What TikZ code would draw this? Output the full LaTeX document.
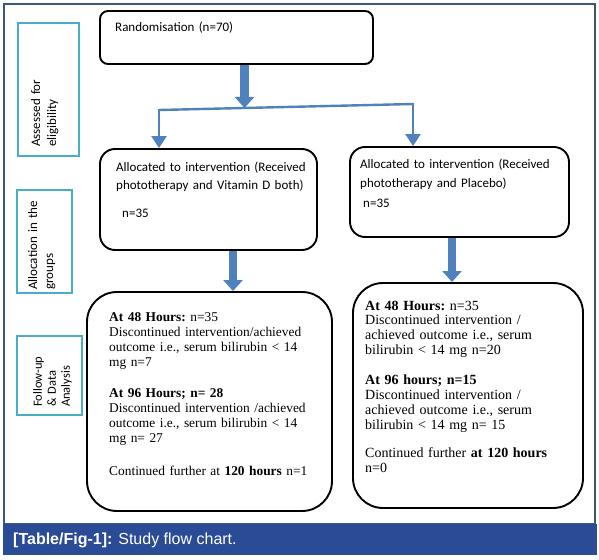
\documentclass[tikz,border=0pt]{standalone}
\usepackage{fontspec}
\setmainfont{Liberation Serif}
\newfontfamily\calibrifont{Carlito}
\newfontfamily\arialfont{Liberation Sans}
\usetikzlibrary{arrows.meta}
\definecolor{framegray}{HTML}{3D5872}
\definecolor{capblue}{HTML}{2A4B96}
\definecolor{labelcyan}{HTML}{4BACC6}
\definecolor{arrowblue}{HTML}{4F81BD}
\tikzset{
  stagebox/.style={draw=labelcyan, line width=2pt, inner sep=0pt},
  flowbox/.style={draw, line width=1.9pt, rounded corners=#1, inner sep=0pt},
  sanstext/.style={anchor=base west, inner sep=0pt, text width=#1, align=left,
    font=\calibrifont\fontsize{13}{18.5}\selectfont},
  seriftext/.style={anchor=base west, inner sep=0pt, text width=#1, align=left,
    font=\fontsize{14}{14.9}\selectfont\frenchspacing},
  stagetext/.style={rotate=90, anchor=north west, inner sep=0pt, text width=#1, align=left,
    font=\calibrifont\fontsize{13}{16}\selectfont},
  blockarrow/.style={arrowblue, line width=#1, -{Triangle[width=19pt,length=11pt]}},
  thinarrow/.style={arrowblue, line width=2.4pt, -{Triangle[width=15pt,length=12pt]}},
}
\begin{document}
\begin{tikzpicture}[x=1pt, y=-1pt]
\useasboundingbox (0,0) rectangle (599,559);

% frame and caption
\draw[framegray, line width=1.2pt] (4,4) rectangle (595,524);
\fill[capblue] (3,524) rectangle (597,555);
\node[anchor=base west, inner sep=0pt, text=white, font=\arialfont\fontsize{16}{18}\selectfont]
  (caption) at (13,544) {\textbf{[Table/Fig-1]:} Study flow chart.};

% stage labels
\node[stagebox, minimum width=61, minimum height=133] (assess) at (48.5,89.5) {};
\node[stagebox, minimum width=55, minimum height=103] (alloc) at (44.5,241.5) {};
\node[stagebox, minimum width=65, minimum height=79] (follow) at (49.5,375.5) {};
\node[stagetext=130] (assesstxt) at (31,147) {Assessed for\\eligibility};
\node[stagetext=100] (alloctxt) at (28,290) {Allocation in the\\groups};
\node[stagetext=80, font=\calibrifont\fontsize{12.5}{14}\selectfont] (followtxt) at (33,407) {Follow-up\\\& Data\\Analysis};

% flow boxes
\node[flowbox=8pt, minimum width=273, minimum height=53] (rand) at (236.5,37.5) {};
\node[flowbox=15pt, minimum width=217, minimum height=101] (alloc1) at (208.5,199.5) {};
\node[flowbox=15pt, minimum width=219, minimum height=90] (alloc2) at (459.5,192) {};
\node[flowbox=30pt, minimum width=245, minimum height=219] (fu1) at (209.5,401.5) {};
\node[flowbox=30pt, minimum width=230, minimum height=225] (fu2) at (468,395.5) {};

% box texts
\node[sanstext=250] (randtxt) at (115,32) {Randomisation (n=70)};
\node[sanstext=215] (alloc1txt) at (116,171) {Allocated to intervention (Received\\
  phototherapy and Vitamin D both)\\[9.5pt]
  \hspace*{6pt}n=35};
\node[sanstext=215] (alloc2txt) at (360,168.5) {Allocated to intervention (Received\\
  phototherapy and Placebo)\\[1.5pt]
  \hspace*{3pt}n=35};
\node[seriftext=240, font=\fontsize{13.4}{14.9}\selectfont\frenchspacing] (fu1txt) at (109,321.7) {\textbf{At 48 Hours:} n=35\\
  Discontinued intervention/achieved\\
  outcome i.e., serum bilirubin < 14\\
  mg n=7\\[16.5pt]
  \textbf{At 96 Hours; n= 28}\\
  Discontinued intervention /achieved\\
  outcome i.e., serum bilirubin < 14\\
  mg n= 27\\[18.5pt]
  Continued further at \textbf{120 hours} n=1};
\node[seriftext=225] (fu2txt) at (365,310) {\textbf{At 48 Hours:} n=35\\
  Discontinued intervention /\\
  achieved outcome i.e., serum\\
  bilirubin < 14 mg n=20\\[15pt]
  \textbf{At 96 hours; n=15}\\
  Discontinued intervention /\\
  achieved outcome i.e., serum\\
  bilirubin < 14 mg n= 15\\[13pt]
  Continued further \textbf{at 120 hours}\\
  n=0};

% arrows
\coordinate (split) at (244.5,108);
\coordinate (lb) at (159,110);
\coordinate (rb) at (413,104);
\draw[blockarrow=9pt] ([xshift=8pt]rand.south) -- (split);
\draw[arrowblue, line width=2.4pt] (lb) -- (rb);
\draw[thinarrow] ([yshift=1.2pt]lb) -- (lb |- alloc1.north);
\draw[thinarrow] ([yshift=1.2pt]rb) -- (rb |- alloc2.north);
\draw[blockarrow=8pt] ([xshift=24.5pt]alloc1.south) -- ([xshift=23.5pt]fu1.north);
\draw[blockarrow=8pt] ([xshift=-7.5pt]alloc2.south) -- ([xshift=-16pt]fu2.north);

\end{tikzpicture}
\end{document}
